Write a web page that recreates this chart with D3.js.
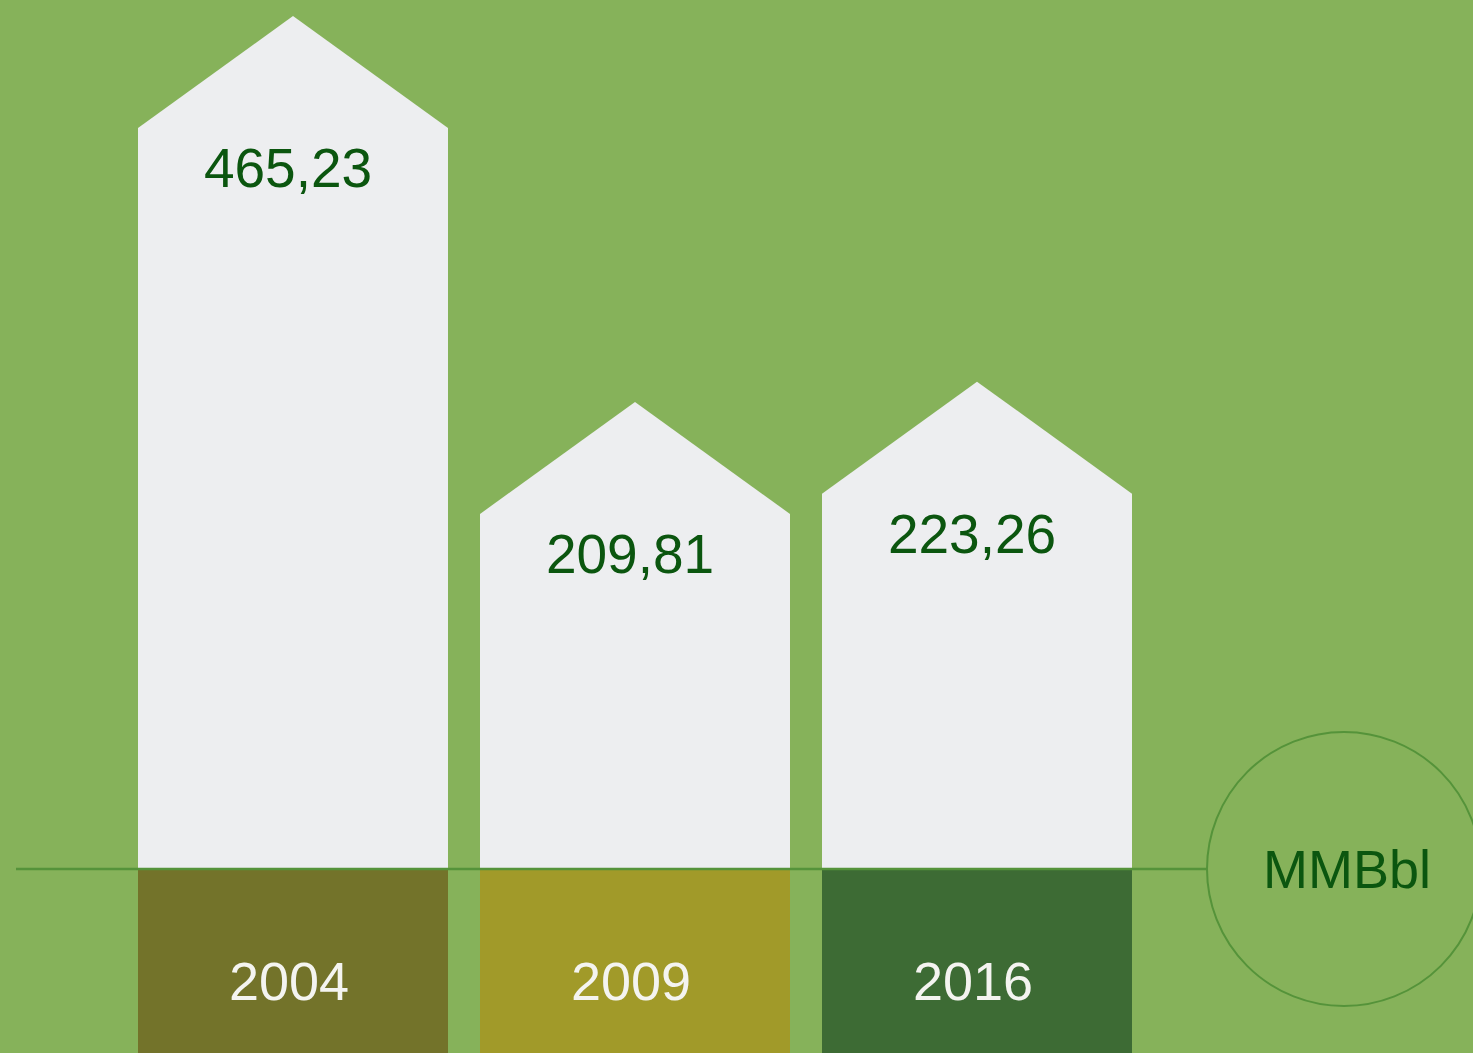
<!DOCTYPE html>
<html>
<head>
<meta charset="utf-8">
<script src="https://cdn.jsdelivr.net/npm/d3@7"></script>
<style>
  html, body { margin: 0; padding: 0; background: #86b25a; overflow: hidden; }
  svg { display: block; }
</style>
</head>
<body>
<div id="vis"></div>
<script>
// data
var years = ["2004", "2009", "2016"];
var values = [465.23, 209.81, 223.26];
var valueLabels = ["465,23", "209,81", "223,26"];
var yearColors = ["#73732a", "#a19a29", "#3d6b34"];
var unitLabel = "MMBbl";

var width = 1473, height = 1053;
var baseY = 869;          // horizontal rule / bottom of the white bars
var roof = 112;           // height of the triangular top
var fontFam = "'Liberation Sans', Arial, sans-serif";

var svg = d3.select("#vis").append("svg")
  .attr("width", width)
  .attr("height", height);

svg.append("rect")
  .attr("width", width)
  .attr("height", height)
  .attr("fill", "#86b25a");

var x = d3.scaleBand()
  .domain(years)
  .range([138, 1132])
  .paddingInner(0.0936)
  .paddingOuter(0);

var y = d3.scaleLinear()
  .domain([0, 465.23])
  .range([baseY - 38, 128]);

var rows = years.map(function(yr, i) {
  return {year: yr, value: values[i], label: valueLabels[i], color: yearColors[i]};
});

var g = svg.append("g");

// house shaped bars
g.selectAll("path.house")
  .data(rows)
  .enter().append("path")
  .attr("class", "house")
  .attr("fill", "#edeef0")
  .attr("d", function(d) {
    var x0 = x(d.year), x1 = x0 + x.bandwidth(), xm = x0 + x.bandwidth() / 2;
    var top = y(d.value);
    return "M" + x0 + "," + baseY +
      "L" + x0 + "," + top +
      "L" + xm + "," + (top - roof) +
      "L" + x1 + "," + top +
      "L" + x1 + "," + baseY + "Z";
  });

// year boxes
g.selectAll("rect.yearbox")
  .data(rows)
  .enter().append("rect")
  .attr("class", "yearbox")
  .attr("x", function(d) { return x(d.year); })
  .attr("y", baseY)
  .attr("width", x.bandwidth())
  .attr("height", height - baseY)
  .attr("fill", function(d) { return d.color; });

// unit circle
var cx = 1344, r = 137;

// base rule
g.append("line")
  .attr("x1", 16)
  .attr("x2", cx - r)
  .attr("y1", baseY)
  .attr("y2", baseY)
  .attr("stroke", "#55933a")
  .attr("stroke-width", 2.5);

g.append("circle")
  .attr("cx", cx)
  .attr("cy", baseY)
  .attr("r", r)
  .attr("fill", "none")
  .attr("stroke", "#55933a")
  .attr("stroke-width", 2);

g.append("text")
  .attr("x", cx + 3)
  .attr("y", baseY + 19)
  .attr("text-anchor", "middle")
  .style("font-family", fontFam)
  .style("font-size", "54px")
  .attr("fill", "#0b560f")
  .text(unitLabel);

// value labels
g.selectAll("text.val")
  .data(rows)
  .enter().append("text")
  .attr("class", "val")
  .attr("x", function(d) { return x(d.year) + x.bandwidth() / 2 - 5; })
  .attr("y", function(d) { return y(d.value) + 59; })
  .attr("text-anchor", "middle")
  .style("font-family", fontFam)
  .style("font-size", "55px")
  .attr("fill", "#0b560f")
  .text(function(d) { return d.label; });

// year labels
g.selectAll("text.yr")
  .data(rows)
  .enter().append("text")
  .attr("class", "yr")
  .attr("x", function(d) { return x(d.year) + x.bandwidth() / 2 - 4; })
  .attr("y", 1000)
  .attr("text-anchor", "middle")
  .style("font-family", fontFam)
  .style("font-size", "54px")
  .attr("fill", "#f4f4f0")
  .text(function(d) { return d.year; });
</script>
</body>
</html>
